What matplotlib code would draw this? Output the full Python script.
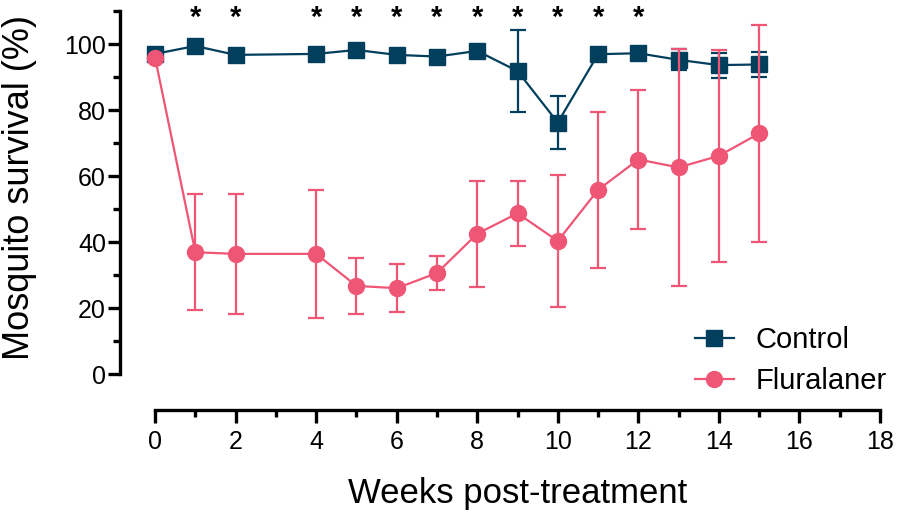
import matplotlib
matplotlib.use("Agg")
import matplotlib.pyplot as plt
from matplotlib.ticker import MultipleLocator

plt.rcParams['font.family'] = ['Liberation Sans', 'DejaVu Sans']

weeks = [0, 1, 2, 4, 5, 6, 7, 8, 9, 10, 11, 12, 13, 14, 15]
control_mean = [97.0, 99.4, 96.7, 97.0, 98.2, 96.7, 96.2, 97.9, 91.8, 76.2, 96.9, 97.2, 95.2, 93.6, 93.8]
control_err = [1.0, 1.0, 1.0, 1.0, 1.0, 1.0, 1.0, 1.0, 12.5, 8.0, 2.0, 1.0, 3.2, 3.8, 3.9]
flur_mean = [95.9, 36.9, 36.4, 36.4, 26.7, 26.0, 30.6, 42.5, 48.7, 40.3, 55.8, 65.0, 62.6, 66.1, 72.9]
flur_err = [0.0, 17.5, 18.2, 19.4, 8.4, 7.3, 5.2, 16.1, 9.9, 19.9, 23.6, 21.0, 36.0, 32.1, 33.0]
star_weeks = [1, 2, 4, 5, 6, 7, 8, 9, 10, 11, 12]
star_y = 108

navy = '#023f5c'
pink = '#ef5675'

fig = plt.figure(figsize=(8.98, 5.2), dpi=100)
ax = fig.add_axes([120/898, 146/520, 760/898, 363/520])

ax.errorbar(weeks, control_mean, yerr=control_err, color=navy, marker='s', markersize=12,
            lw=1.6, elinewidth=1.6, capsize=5.5, capthick=1.6, label='Control', zorder=3, clip_on=False)
ax.errorbar(weeks, flur_mean, yerr=flur_err, color=pink, marker='o', markersize=11.5,
            lw=1.6, elinewidth=1.6, capsize=5.5, capthick=1.6, label='Fluralaner', zorder=4, clip_on=False)

for w in star_weeks:
    ax.text(w, star_y, '*', ha='center', va='center', fontsize=21, fontweight='bold', color='black')

ax.set_xlim(-0.87, 18)
ax.set_ylim(0, 110)

for s in ['top', 'right']:
    ax.spines[s].set_visible(False)
ax.spines['left'].set_linewidth(2.4)
ax.spines['bottom'].set_linewidth(2.4)
ax.spines['bottom'].set_position(('outward', 26))
ax.spines['bottom'].set_bounds(0, 18)
ax.spines['left'].set_bounds(0, 110)

ax.xaxis.set_major_locator(MultipleLocator(2))
ax.xaxis.set_minor_locator(MultipleLocator(1))
ax.yaxis.set_major_locator(MultipleLocator(20))
ax.yaxis.set_minor_locator(MultipleLocator(10))
ax.tick_params(which='major', length=9, width=2.4, labelsize=18, color='black')
ax.tick_params(which='minor', length=5, width=2.4, color='black')
ax.tick_params(axis='x', pad=5)
ax.tick_params(axis='y', pad=1)
ax.set_yticks([0, 20, 40, 60, 80, 100])
ax.set_xticks(range(0, 19, 2))

ax.set_xlabel('Weeks post-treatment', fontsize=25)
ax.xaxis.set_label_coords(0.523, -0.283)
ax.set_ylabel('Mosquito survival (%)', fontsize=26)
ax.yaxis.set_label_coords(-0.109, 0.515)

handles, labels = ax.get_legend_handles_labels()
handles = [h[0] for h in handles]
ax.legend(handles, labels, loc='lower right', bbox_to_anchor=(1.044, -0.13), frameon=False,
          fontsize=21, handlelength=1.35, handletextpad=0.75, labelspacing=0.45)

fig.savefig('out.png', dpi=100)
